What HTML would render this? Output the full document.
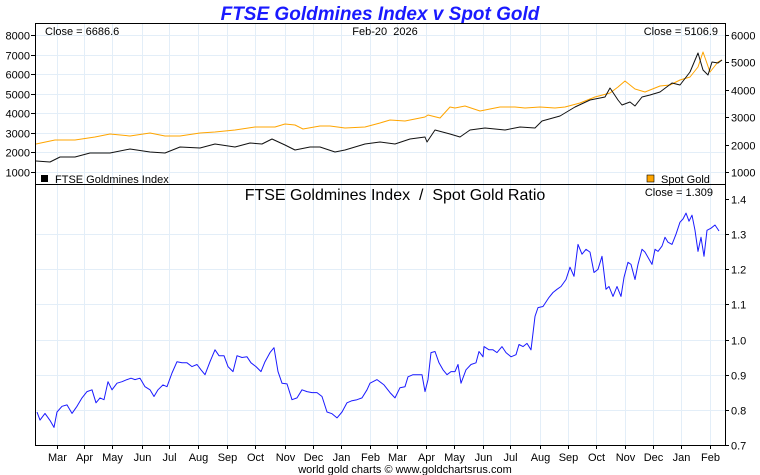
<!DOCTYPE html>
<html><head><meta charset="utf-8"><style>
body{margin:0;background:#fff;}
svg{display:block;font-family:"Liberation Sans",sans-serif;}
</style></head><body>
<svg id="c" width="760" height="475" xmlns="http://www.w3.org/2000/svg">
<text x="380" y="20" text-anchor="middle" font-size="19" font-weight="bold" font-style="italic" fill="#1a1aff">FTSE Goldmines Index v Spot Gold</text>
<g id="grid"></g>
<g id="series"></g>
<rect x="35.5" y="23.5" width="690" height="422" fill="none" stroke="#000"/>
<line x1="35" y1="184.5" x2="725" y2="184.5" stroke="#000"/>
<g id="axes" font-size="11" fill="#000"></g>
<text x="45" y="35" font-size="11">Close = 6686.6</text>
<text x="385" y="35" font-size="11" text-anchor="middle">Feb-20&#160;&#160;2026</text>
<text x="718" y="35" font-size="11" text-anchor="end">Close = 5106.9</text>
<rect x="41" y="175" width="7" height="7" fill="#000"/>
<text x="55" y="183" font-size="11">FTSE Goldmines Index</text>
<rect x="647" y="175" width="7" height="7" fill="#ffa500" stroke="#000" stroke-width="0.6"/>
<text x="661" y="183" font-size="11">Spot Gold</text>
<text x="395" y="200" font-size="16" text-anchor="middle">FTSE Goldmines Index&#160;&#160;/&#160;&#160;Spot Gold Ratio</text>
<text x="713" y="196" font-size="11" text-anchor="end">Close = 1.309</text>
<text x="405" y="473" font-size="11" text-anchor="middle">world gold charts © www.goldchartsrus.com</text>
</svg>
<script>
const monthLabels=["Mar","Apr","May","Jun","Jul","Aug","Sep","Oct","Nov","Dec","Jan","Feb","Mar","Apr","May","Jun","Jul","Aug","Sep","Oct","Nov","Dec","Jan","Feb"];
const monthT=[21,48,76,106,133,162,191,219,249,277,305,334,361,390,418,447,474,504,532,560,589,617,645,674];
const leftTicks=[1000,2000,3000,4000,5000,6000,7000,8000];
const rightTicks=[1000,2000,3000,4000,5000,6000];
const ratioTicks=[0.7,0.8,0.9,1.0,1.1,1.2,1.3,1.4];
const goldT=[0,19,39,59,74,94,114,129,144,164,179,199,219,239,249,259,267,284,294,309,329,344,354,369,389,392,404,414,419,429,444,464,479,489,504,519,529,544,559,574,582,589,599,609,624,634,644,654,662,667,674,682,686];
const goldV=[2022,2168,2168,2277,2387,2314,2423,2314,2314,2423,2460,2533,2642,2642,2752,2715,2569,2679,2679,2606,2642,2788,2898,2861,3007,3080,2971,3372,3336,3409,3226,3372,3372,3336,3372,3336,3372,3518,3737,3883,4102,4321,4029,3920,4139,4175,4358,4467,4832,5380,4650,5015,5088];
const ftseT=[0,14,24,39,54,74,94,114,129,144,164,179,199,214,226,236,249,259,274,284,299,309,329,344,359,374,389,391,399,414,424,434,449,469,484,499,506,524,539,554,569,574,582,586,594,599,606,614,624,636,644,654,662,667,672,676,682,686];
const ftseV=[1562,1511,1766,1766,1971,1971,2175,2022,1971,2277,2226,2431,2277,2482,2431,2686,2380,2124,2277,2277,2022,2124,2431,2533,2431,2686,2788,2533,3146,2942,2788,3146,3248,3146,3299,3248,3606,3862,4321,4679,4832,5292,4679,4424,4577,4372,4832,4935,5088,5548,5446,6110,7081,6212,5957,6621,6570,6723];
const ratioT=[1,4,9,14,18,21,26,31,36,41,46,51,56,60,64,68,72,76,81,86,91,95,99,104,109,114,118,122,127,131,136,141,146,151,156,161,165,169,174,179,183,188,192,197,201,206,211,215,220,225,229,234,238,242,246,251,256,261,266,271,276,281,286,291,296,301,306,311,316,321,326,331,334,341,348,354,359,364,369,372,377,382,386,389,392,395,399,403,407,411,415,419,422,425,430,435,440,443,447,448,453,457,461,466,470,475,480,483,487,491,495,499,502,507,513,517,521,525,530,534,538,542,546,550,554,558,562,566,570,573,577,581,585,588,592,595,599,602,606,609,613,616,619,622,626,629,632,636,640,644,647,650,653,656,659,662,665,668,671,675,679,683,686];
const ratioV=[0.794,0.771,0.79,0.77,0.75,0.794,0.81,0.814,0.79,0.81,0.834,0.852,0.857,0.82,0.834,0.829,0.88,0.857,0.876,0.88,0.886,0.89,0.886,0.89,0.866,0.857,0.838,0.857,0.871,0.866,0.905,0.937,0.934,0.934,0.923,0.929,0.914,0.9,0.937,0.971,0.954,0.954,0.923,0.909,0.954,0.949,0.951,0.934,0.923,0.909,0.937,0.963,0.977,0.909,0.876,0.874,0.829,0.834,0.857,0.852,0.849,0.849,0.838,0.794,0.789,0.777,0.794,0.82,0.826,0.829,0.834,0.857,0.876,0.886,0.871,0.849,0.834,0.863,0.866,0.894,0.9,0.9,0.9,0.852,0.886,0.963,0.966,0.934,0.914,0.9,0.909,0.909,0.929,0.876,0.914,0.929,0.934,0.966,0.951,0.98,0.971,0.971,0.963,0.98,0.963,0.951,0.957,0.986,0.98,0.989,0.971,1.066,1.091,1.094,1.12,1.134,1.143,1.151,1.171,1.206,1.18,1.271,1.243,1.257,1.249,1.191,1.2,1.237,1.143,1.151,1.123,1.151,1.123,1.177,1.22,1.214,1.171,1.214,1.257,1.249,1.229,1.214,1.257,1.251,1.266,1.291,1.277,1.271,1.3,1.334,1.343,1.36,1.337,1.354,1.311,1.251,1.291,1.237,1.311,1.317,1.326,1.309];

const NS="http://www.w3.org/2000/svg";
const xS=t=>36+t;
const yL=v=>172-(v-1000)*0.01957;
const yR=v=>172-(v-1000)*0.0274;
const yB=v=>445-(v-0.7)*351.4;
function mk(tag,parent,attrs){const e=document.createElementNS(NS,tag);for(const k in attrs)e.setAttribute(k,attrs[k]);parent.appendChild(e);return e;}
const grid=document.getElementById('grid'),axes=document.getElementById('axes'),ser=document.getElementById('series');
monthT.forEach((t,i)=>{
  const x=Math.round(xS(t))+0.5;
  let l=mk('line',grid,{x1:x,y1:24,x2:x,y2:445,stroke:'#e3eef8'});
  
  
  let tk=mk('line',axes,{x1:x,y1:445,x2:x,y2:449,stroke:'#000'});
  
  
  let tx=mk('text',axes,{x:x,y:461,'text-anchor':'middle'});
  tx.textContent=monthLabels[i];
  
  
});
leftTicks.forEach(v=>{
  const y=Math.round(yL(v))+0.5;
  let l=mk('line',grid,{x1:36,y1:y,x2:725,y2:y,stroke:'#e3eef8'});
  
  
  let tk=mk('line',axes,{x1:31,y1:y,x2:35,y2:y,stroke:'#000'});
  
  
  let tx=mk('text',axes,{x:30,y:y+4,'text-anchor':'end'});
  tx.textContent=v;
  
  
});
rightTicks.forEach(v=>{
  const y=Math.round(yR(v))+0.5;
  let tk=mk('line',axes,{x1:725,y1:y,x2:729,y2:y,stroke:'#000'});
  
  
  let tx=mk('text',axes,{x:731,y:y+4});
  tx.textContent=v;
  
  
});
ratioTicks.forEach(v=>{
  const y=Math.round(yB(v))+0.5;
  if(v>0.7&&v<1.4){let l=mk('line',grid,{x1:36,y1:y,x2:725,y2:y,stroke:'#e3eef8'});
  
  }
  let tk=mk('line',axes,{x1:725,y1:y,x2:729,y2:y,stroke:'#000'});
  
  
  let tx=mk('text',axes,{x:731,y:y+4});
  tx.textContent=v.toFixed(1);
  
  
});
function line(ts,vs,yf,color,name){
  const d=ts.map((t,i)=>(i?'L':'M')+xS(t).toFixed(1)+','+yf(vs[i]).toFixed(1)).join('');
  const p=mk('path',ser,{d:d,fill:'none',stroke:color,'stroke-width':1,'stroke-linejoin':'round'});
  
  
}
line(goldT,goldV,yR,'#ffa500','gold-line');
line(ftseT,ftseV,yL,'#111','ftse-line');
line(ratioT,ratioV,yB,'#1a1aff','ratio-line');
</script>
</body></html>
